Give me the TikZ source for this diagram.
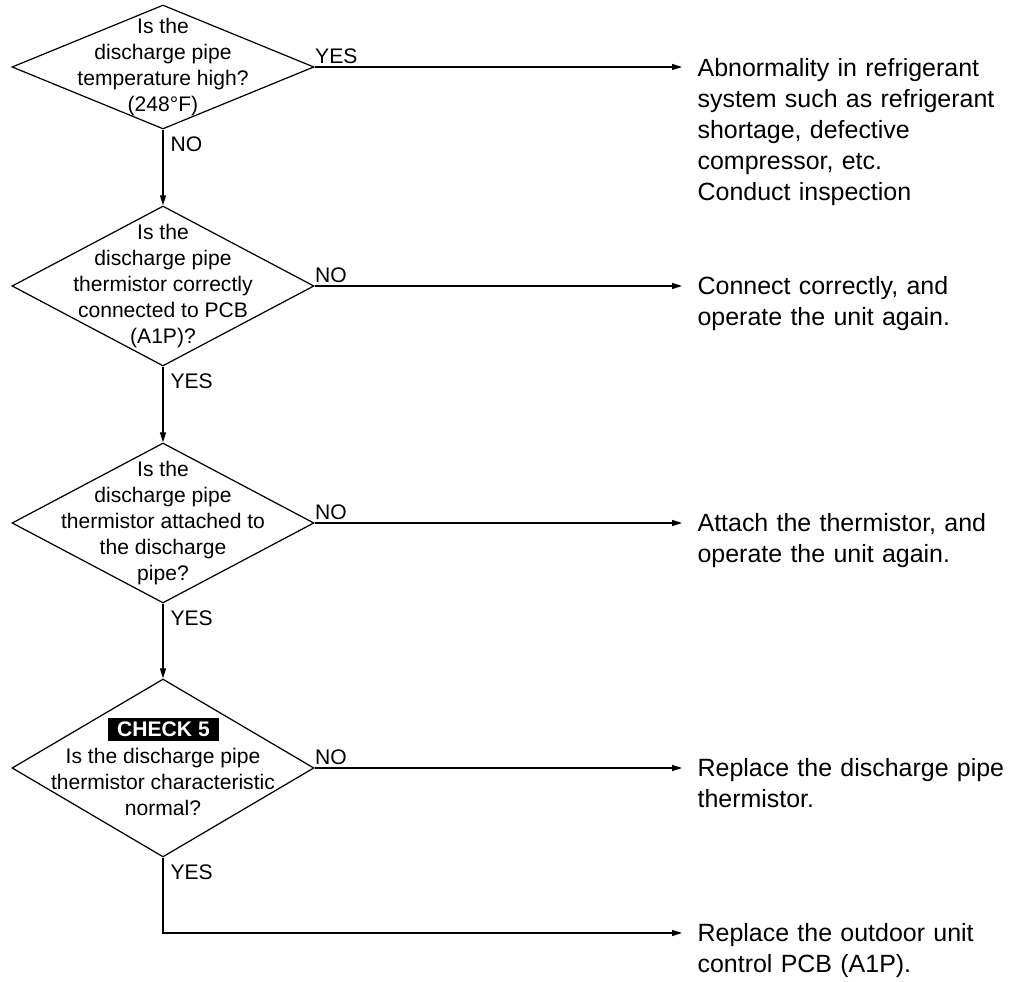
\documentclass[tikz,border=0pt]{standalone}
\usepackage{fontspec}
\setmainfont{Liberation Sans}
\usetikzlibrary{shapes.geometric,arrows.meta}

\begin{document}
\begin{tikzpicture}[line width=0.7pt, line join=miter,
    every node/.style={font=\fontsize{12}{14.8}\selectfont},
    decision/.style={draw, diamond, minimum width=6.04cm, inner sep=0pt},
    question/.style={align=center, inner sep=0pt},
    result/.style={anchor=base west, align=left, text width=6.2cm, inner xsep=0.3cm, inner ysep=0pt,
      font=\fontsize{14.2}{17.6}\selectfont},
    side/.style={above right, inner xsep=0pt, inner ysep=0.06cm},
    down/.style={below right, inner sep=0.14cm},
    arr/.style={-{Triangle[length=0.2cm,width=0.12cm]}}]
  \useasboundingbox (0,0) rectangle (20.28,-19.64);

  % questions
  \node[decision, minimum height=2.48cm] (q1) at (3.26,-1.34) {};
  \node[question] (q1txt) at (q1) {Is the\\discharge pipe\\temperature high?\\(248°F)};
  \node[decision, minimum height=3.2cm] (q2) at (3.26,-5.72) {};
  \node[question] (q2txt) at (q2) {Is the\\discharge pipe\\thermistor correctly\\connected to PCB\\(A1P)?};
  \node[decision, minimum height=3.2cm] (q3) at (3.26,-10.46) {};
  \node[question] (q3txt) at (q3) {Is the\\discharge pipe\\thermistor attached to\\the discharge\\pipe?};
  \node[decision, minimum height=3.56cm] (q4) at (3.26,-15.36) {};
  \node[fill=black, text=white, inner xsep=0.19cm, inner ysep=0.08cm,
    font=\fontsize{12}{14.8}\selectfont\bfseries] (chk) at (3.27,-14.59) {CHECK 5};
  \node[question] (q4txt) at (3.26,-15.64) {Is the discharge pipe\\thermistor characteristic\\normal?};

  % results
  \node[result] (r1) at (13.64,-1.54) {Abnormality in refrigerant\\system such as refrigerant\\shortage, defective\\compressor, etc.\\Conduct inspection};
  \node[result] (r2) at (13.64,-5.90) {Connect correctly, and\\operate the unit again.};
  \node[result] (r3) at (13.64,-10.64) {Attach the thermistor, and\\operate the unit again.};
  \node[result] (r4) at (13.64,-15.54) {Replace the discharge pipe\\thermistor.};
  \node[result] (r5) at (13.64,-18.84) {Replace the outdoor unit\\control PCB (A1P).};

  % connectors
  \draw[arr] (q1.south) -- (q2.north);
  \draw[arr] (q2.south) -- (q3.north);
  \draw[arr] (q3.south) -- (q4.north);
  \draw[arr] (q1.east) -- (q1.east -| r1.west);
  \draw[arr] (q2.east) -- (q2.east -| r2.west);
  \draw[arr] (q3.east) -- (q3.east -| r3.west);
  \draw[arr] (q4.east) -- (q4.east -| r4.west);
  \coordinate (k5) at (3.26,-18.66);
  \draw[arr] (q4.south) -- (k5) -- (k5 -| r5.west);

  % answers
  \node[side] (a1) at (q1.east) {YES};
  \node[down] (b1) at (q1.south) {NO};
  \node[side] (a2) at (q2.east) {NO};
  \node[down] (b2) at (q2.south) {YES};
  \node[side] (a3) at (q3.east) {NO};
  \node[down] (b3) at (q3.south) {YES};
  \node[side] (a4) at (q4.east) {NO};
  \node[down] (b4) at (q4.south) {YES};
\end{tikzpicture}
\end{document}
